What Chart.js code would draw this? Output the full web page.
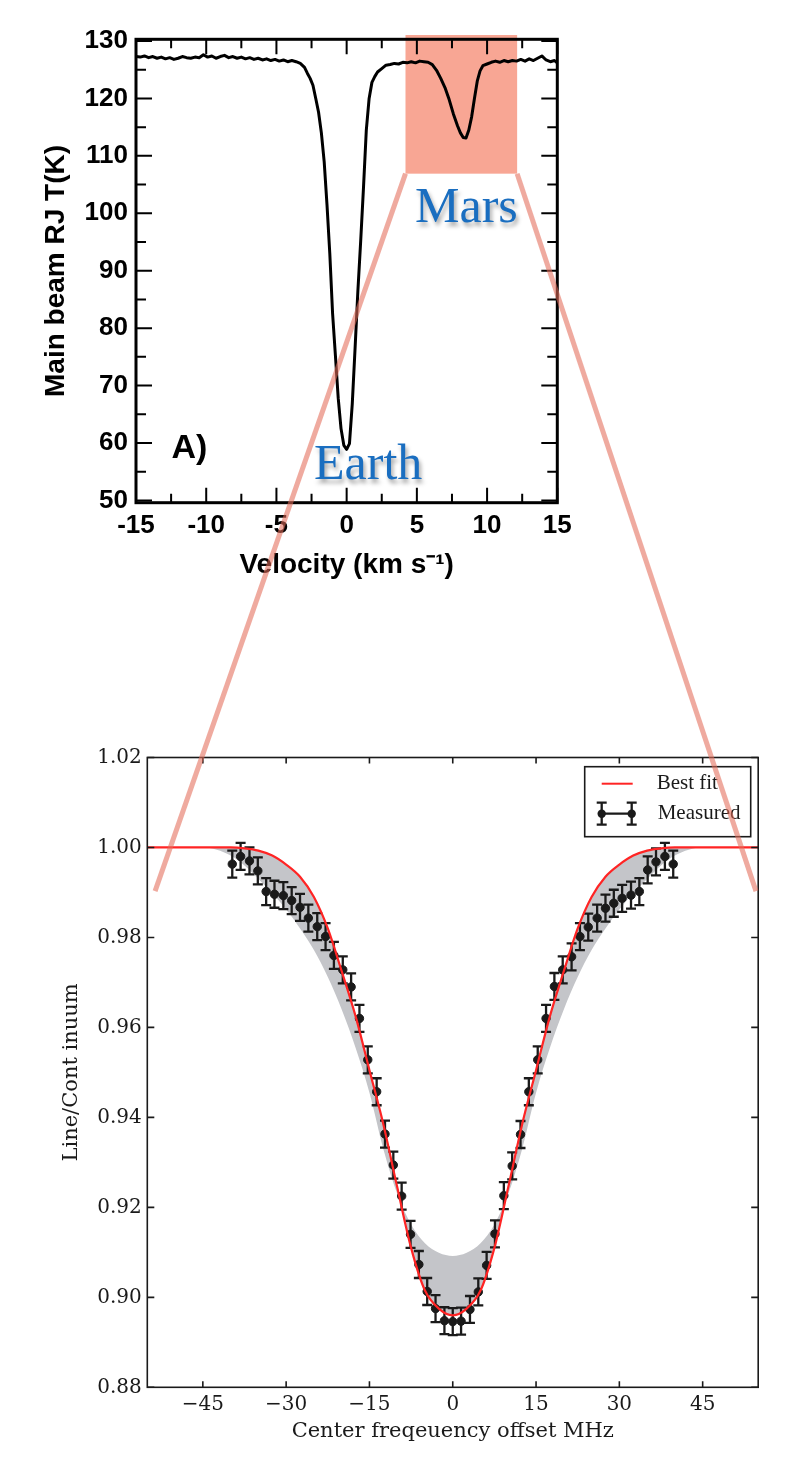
<!DOCTYPE html>
<html>
<head>
<meta charset="utf-8">
<script src="https://cdn.jsdelivr.net/npm/chart.js@4.4.1/dist/chart.umd.min.js"></script>
<style>
  html, body { margin: 0; padding: 0; background: #fff; }
  #page { position: relative; width: 800px; height: 1470px; overflow: hidden; }
  #page canvas { position: absolute; left: 0; }
  #top { top: 0; }
  #bottom { top: 620px; }
  #overlay { top: 0; pointer-events: none; }
  .planet {
    position: absolute;
    font-family: "Liberation Serif", "DejaVu Serif", serif;
    font-size: 50px;
    line-height: 50px;
    color: #1a6ec0;
    text-shadow: 2px 4px 4px rgba(0, 0, 0, 0.35);
    white-space: nowrap;
  }
</style>
</head>
<body>
<div id="page">
  <canvas id="top" width="800" height="600"></canvas>
  <canvas id="bottom" width="800" height="850"></canvas>
  <canvas id="overlay" width="800" height="1470"></canvas>
  <div class="planet" style="left:415px; top:180px">Mars</div>
  <div class="planet" style="left:314px; top:437px">Earth</div>
</div>

<script>
// ---- Panel A: main beam temperature vs velocity -------------------
const VEL = [
  -15.0, -14.7, -14.4, -14.1, -13.8, -13.5, -13.2, -12.9, -12.6, -12.3,
  -12.0, -11.7, -11.4, -11.1, -10.8, -10.5, -10.2, -9.9, -9.6, -9.3,
  -9.0, -8.7, -8.4, -8.1, -7.8, -7.5, -7.2, -6.9, -6.6, -6.3,
  -6.0, -5.7, -5.4, -5.1, -4.8, -4.5, -4.2, -3.9, -3.6, -3.3,
  -3.0, -2.8, -2.6, -2.4, -2.2, -2.0, -1.8, -1.6, -1.4, -1.2,
  -1.0, -0.8, -0.6, -0.4, -0.2, 0.0, 0.2, 0.4, 0.6, 0.8,
  1.0, 1.2, 1.4, 1.6, 1.8, 2.0, 2.2, 2.5, 2.8, 3.1,
  3.4, 3.7, 4.0, 4.3, 4.6, 4.9, 5.2, 5.5, 5.8, 6.1,
  6.4, 6.7, 7.0, 7.3, 7.6, 7.9, 8.1, 8.3, 8.5, 8.7,
  8.9, 9.1, 9.3, 9.5, 9.7, 10.0, 10.3, 10.6, 10.9, 11.2,
  11.5, 11.8, 12.1, 12.4, 12.7, 13.0, 13.3, 13.6, 13.9, 14.2,
  14.5, 14.8, 15.0,
];
const TEMP = [
  127.3, 127.2, 127.4, 127.1, 127.3, 127.0, 127.2, 126.9, 127.1, 126.8,
  127.0, 127.3, 127.1, 127.0, 127.2, 127.1, 127.6, 127.2, 127.4, 127.0,
  127.3, 127.5, 127.1, 127.3, 127.0, 127.2, 126.9, 127.1, 126.8, 127.0,
  126.7, 126.9, 126.6, 126.8, 126.5, 126.7, 126.4, 126.6, 126.4, 126.1,
  125.4, 124.4, 123.5, 122.3, 120.0, 117.6, 114.0, 109.0, 101.5, 93.0,
  82.5, 75.2, 67.8, 62.5, 59.6, 58.9, 59.9, 66.8, 76.5, 86.5,
  95.2, 104.5, 114.5, 120.0, 122.8, 123.8, 124.6, 125.2, 125.8, 125.9,
  126.1, 126.0, 126.3, 126.2, 126.4, 126.2, 126.5, 126.4, 126.3, 125.9,
  124.9, 123.5, 121.9, 119.8, 117.3, 115.2, 114.0, 113.2, 113.1, 114.5,
  116.8, 120.0, 123.0, 124.8, 125.7, 126.0, 126.3, 126.5, 126.3, 126.6,
  126.4, 126.6, 126.5, 126.8, 126.5, 126.9, 126.6, 127.0, 127.4, 126.7,
  126.4, 126.6, 126.2,
];
const VEL_TICKS  = [-15, -10, -5, 0, 5, 10, 15];
const VEL_MINOR  = [-12.5, -7.5, -2.5, 2.5, 7.5, 12.5];
const TEMP_TICKS = [50, 60, 70, 80, 90, 100, 110, 120, 130];
const TEMP_MINOR = [55, 65, 75, 85, 95, 105, 115, 125];
// highlighted Mars window: velocity from/to, temperature low/high
const MARS_BOX   = [4.19, 12.14, 106.9, 131.05];
const PANEL_TAG  = ["A)", -11.2, 59.1];

// ---- Zoomed panel: line/continuum vs frequency offset --------------
const FIT_F = [
  -55, -45, -42.5, -40, -37.5, -35, -32.5, -30, -27.5, -25,
  -22.5, -20, -17.5, -15, -12.5, -10, -7.5, -5, -2.5, 0,
  2.5, 5, 7.5, 10, 12.5, 15, 17.5, 20, 22.5, 25,
  27.5, 30, 32.5, 35, 37.5, 40, 42.5, 45, 55,
];
const FIT_BEST = [
  1.0, 1.0, 1.0, 1.0, 0.9998, 0.9993, 0.9982, 0.9962, 0.9935, 0.9890,
  0.9820, 0.9725, 0.9625, 0.9505, 0.9385, 0.9245, 0.9110, 0.9015, 0.8975, 0.8960,
  0.8975, 0.9015, 0.9110, 0.9245, 0.9385, 0.9505, 0.9625, 0.9725, 0.9820, 0.9890,
  0.9935, 0.9962, 0.9982, 0.9993, 0.9998, 1.0, 1.0, 1.0, 1.0,
];
const FIT_ALT = [
  1.0, 1.0, 0.9995, 0.9982, 0.9960, 0.9930, 0.9898, 0.9862, 0.9820, 0.9772,
  0.9712, 0.9640, 0.9555, 0.9455, 0.9330, 0.9230, 0.9162, 0.9120, 0.9099, 0.9092,
  0.9099, 0.9120, 0.9162, 0.9230, 0.9330, 0.9455, 0.9555, 0.9640, 0.9712, 0.9772,
  0.9820, 0.9862, 0.9898, 0.9930, 0.9960, 0.9982, 0.9995, 1.0, 1.0,
];
const MEAS_F = [
  -39.7, -38.2, -36.6, -35.1, -33.6, -32.1, -30.5, -29.0, -27.5, -26.0,
  -24.4, -22.9, -21.4, -19.8, -18.3, -16.8, -15.3, -13.7, -12.2, -10.7,
  -9.2, -7.6, -6.1, -4.6, -3.1, -1.5, 0.0, 1.5, 3.1, 4.6,
  6.1, 7.6, 9.2, 10.7, 12.2, 13.7, 15.3, 16.8, 18.3, 19.8,
  21.4, 22.9, 24.4, 26.0, 27.5, 29.0, 30.5, 32.1, 33.6, 35.1,
  36.6, 38.2, 39.7,
];
const MEAS_V = [
  0.9963, 0.9980, 0.9970, 0.9948, 0.9902, 0.9896, 0.9893, 0.9882, 0.9867, 0.9843,
  0.9824, 0.9802, 0.9760, 0.9728, 0.9690, 0.9620, 0.9528, 0.9457, 0.9363, 0.9294,
  0.9225, 0.9140, 0.9073, 0.9013, 0.8975, 0.8948, 0.8946, 0.8947, 0.8973, 0.9012,
  0.9071, 0.9141, 0.9226, 0.9292, 0.9362, 0.9457, 0.9528, 0.9620, 0.9691, 0.9728,
  0.9757, 0.9802, 0.9823, 0.9843, 0.9865, 0.9876, 0.9887, 0.9894, 0.9902, 0.9950,
  0.9968, 0.9980, 0.9963,
];
const MEAS_ERR = [
  0.003, 0.003, 0.003, 0.003, 0.003, 0.003, 0.003, 0.003, 0.003, 0.003,
  0.003, 0.003, 0.003, 0.003, 0.003, 0.003, 0.003, 0.003, 0.003, 0.003,
  0.003, 0.003, 0.003, 0.003, 0.003, 0.003, 0.003, 0.003, 0.003, 0.003,
  0.003, 0.003, 0.003, 0.003, 0.003, 0.003, 0.003, 0.003, 0.003, 0.003,
  0.003, 0.003, 0.003, 0.003, 0.003, 0.003, 0.003, 0.003, 0.003, 0.003,
  0.003, 0.003, 0.003,
];
const FREQ_TICKS  = [-45, -30, -15, 0, 15, 30, 45];
const RATIO_TICKS = [0.88, 0.90, 0.92, 0.94, 0.96, 0.98, 1.00, 1.02];
const LEGEND_TXT  = ["Best fit", "Measured"];
// where the zoom guide lines land on the lower panel (offset MHz, ratio)
const GUIDE_ENDS  = [-53.6, 54.6, 0.9903];

// ---- styles ----------------------------------------------------------
const SANS  = "'Liberation Sans', Arial, Helvetica, sans-serif";
const SERIF = "'DejaVu Serif', 'Liberation Serif', serif";
const INK   = "#1a1a1a";
const SHADE = "#c4c5c9";
const FIT_RED = "#ff2424";

const pts = (xs, ys) => xs.map((x, i) => ({ x, y: ys[i] }));
const fixTicks = (vals) => (scale) => { scale.ticks = vals.map((v) => ({ value: v })); };

// inward tick marks on all four sides + the plot frame
function frameTicks(opts) {
  return {
    id: "frameTicks",
    afterDatasetsDraw(chart) {
      const { ctx, chartArea: a, scales: { x, y } } = chart;
      ctx.save();
      ctx.strokeStyle = opts.color;
      ctx.lineWidth = opts.tickWidth;
      ctx.beginPath();
      const hTick = (v, len) => {
        const py = y.getPixelForValue(v);
        ctx.moveTo(a.left, py);  ctx.lineTo(a.left + len, py);
        ctx.moveTo(a.right, py); ctx.lineTo(a.right - len, py);
      };
      const vTick = (v, len) => {
        const px = x.getPixelForValue(v);
        ctx.moveTo(px, a.bottom); ctx.lineTo(px, a.bottom - len);
        ctx.moveTo(px, a.top);    ctx.lineTo(px, a.top + len);
      };
      opts.yMajor.forEach((v) => hTick(v, opts.major));
      opts.yMinor.forEach((v) => hTick(v, opts.minor));
      opts.xMajor.forEach((v) => vTick(v, opts.major - 1));
      opts.xMinor.forEach((v) => vTick(v, opts.minor - 1));
      ctx.stroke();
      ctx.lineWidth = opts.frameWidth;
      ctx.strokeRect(a.left, a.top, a.right - a.left, a.bottom - a.top);
      ctx.restore();
    },
  };
}

// ---- Panel A chart ----------------------------------------------------
const marsLayer = {
  id: "marsLayer",
  afterDraw(chart) {
    const { ctx, scales: { x, y } } = chart;
    const x0 = x.getPixelForValue(MARS_BOX[0]);
    const x1 = x.getPixelForValue(MARS_BOX[1]);
    const y0 = y.getPixelForValue(MARS_BOX[3]);
    const y1 = y.getPixelForValue(MARS_BOX[2]);
    ctx.save();
    ctx.globalCompositeOperation = "multiply";
    ctx.fillStyle = "rgb(248,166,148)";
    ctx.fillRect(x0, y0, x1 - x0, y1 - y0);
    ctx.restore();

    ctx.save();
    ctx.font = "bold 34px " + SANS;
    ctx.fillStyle = "#000";
    ctx.textAlign = "center";
    ctx.textBaseline = "middle";
    ctx.fillText(PANEL_TAG[0], x.getPixelForValue(PANEL_TAG[1]), y.getPixelForValue(PANEL_TAG[2]));
    ctx.restore();
  },
};

const topChart = new Chart(document.getElementById("top"), {
  type: "line",
  data: {
    datasets: [{
      data: pts(VEL, TEMP),
      borderColor: "#000",
      borderWidth: 3,
      pointRadius: 0,
      tension: 0,
      borderJoinStyle: "round",
    }],
  },
  options: {
    responsive: false,
    animation: false,
    layout: { padding: { left: 0, top: 39.3, right: 242.7, bottom: 17.3 } },
    plugins: { legend: { display: false }, tooltip: { enabled: false } },
    scales: {
      x: {
        type: "linear",
        min: -15, max: 15,
        afterBuildTicks: fixTicks(VEL_TICKS),
        afterFit: (s) => { s.height = 80; },
        grid: { display: false, drawTicks: false },
        border: { display: false },
        ticks: {
          autoSkip: false, maxRotation: 0, padding: 8,
          color: "#000",
          font: { family: SANS, size: 26, weight: "bold" },
        },
        title: {
          display: true,
          text: "Velocity (km s\u207B\u00B9)",
          color: "#000",
          font: { family: SANS, size: 28, weight: "bold" },
          padding: { top: 0, bottom: 1 },
        },
      },
      y: {
        type: "linear",
        min: 49.6, max: 130.3,
        afterBuildTicks: fixTicks(TEMP_TICKS),
        afterFit: (s) => { s.width = 136; },
        grid: { display: false, drawTicks: false },
        border: { display: false },
        ticks: {
          autoSkip: false, padding: 8,
          color: "#000",
          font: { family: SANS, size: 26, weight: "bold" },
        },
        title: {
          display: true,
          text: "Main beam RJ T(K)",
          color: "#000",
          font: { family: SANS, size: 28, weight: "bold" },
          padding: { top: 39, bottom: 0 },
        },
      },
    },
  },
  plugins: [
    frameTicks({
      color: "#000", tickWidth: 2, frameWidth: 3, major: 16, minor: 10,
      yMajor: TEMP_TICKS, yMinor: TEMP_MINOR, xMajor: VEL_TICKS, xMinor: VEL_MINOR,
    }),
    marsLayer,
  ],
});

// ---- Zoomed panel chart -------------------------------------------------
const errorBars = {
  id: "errorBars",
  beforeDatasetDraw(chart, args) {
    if (args.index !== 1) return;
    const { ctx, scales: { x, y } } = chart;
    ctx.save();
    ctx.strokeStyle = INK;
    ctx.lineWidth = 2.3;
    ctx.beginPath();
    MEAS_F.forEach((f, i) => {
      const px = x.getPixelForValue(f);
      const hi = y.getPixelForValue(MEAS_V[i] + MEAS_ERR[i]);
      const lo = y.getPixelForValue(MEAS_V[i] - MEAS_ERR[i]);
      ctx.moveTo(px, hi); ctx.lineTo(px, lo);
      ctx.moveTo(px - 5, hi); ctx.lineTo(px + 5, hi);
      ctx.moveTo(px - 5, lo); ctx.lineTo(px + 5, lo);
    });
    ctx.stroke();
    ctx.restore();
  },
};

const fitLegend = {
  id: "fitLegend",
  afterDraw(chart) {
    const { ctx, chartArea: a } = chart;
    const bx = a.right - 173.5, by = a.top + 9.2, bw = 166, bh = 70;
    ctx.save();
    ctx.fillStyle = "#fff";
    ctx.fillRect(bx, by, bw, bh);
    ctx.strokeStyle = INK;
    ctx.lineWidth = 1.6;
    ctx.strokeRect(bx, by, bw, bh);

    const r1 = by + 17, r2 = by + 47;
    ctx.strokeStyle = FIT_RED;
    ctx.lineWidth = 2;
    ctx.beginPath();
    ctx.moveTo(bx + 17, r1); ctx.lineTo(bx + 48, r1);
    ctx.stroke();

    ctx.strokeStyle = INK;
    ctx.fillStyle = INK;
    ctx.lineWidth = 2.3;
    ctx.beginPath();
    ctx.moveTo(bx + 17, r2); ctx.lineTo(bx + 47, r2);
    [bx + 17, bx + 47].forEach((px) => {
      ctx.moveTo(px, r2 - 11); ctx.lineTo(px, r2 + 11);
      ctx.moveTo(px - 5, r2 - 11); ctx.lineTo(px + 5, r2 - 11);
      ctx.moveTo(px - 5, r2 + 11); ctx.lineTo(px + 5, r2 + 11);
    });
    ctx.stroke();
    [bx + 17, bx + 47].forEach((px) => {
      ctx.beginPath(); ctx.arc(px, r2, 4.2, 0, Math.PI * 2); ctx.fill();
    });

    ctx.font = "21px 'Liberation Serif', 'DejaVu Serif', serif";
    ctx.textAlign = "left";
    ctx.textBaseline = "middle";
    ctx.fillText(LEGEND_TXT[0], bx + 72, r1);
    ctx.fillText(LEGEND_TXT[1], bx + 73, r2);
    ctx.restore();
  },
};

const bottomChart = new Chart(document.getElementById("bottom"), {
  type: "line",
  data: {
    datasets: [
      {
        label: LEGEND_TXT[0],
        data: pts(FIT_F, FIT_BEST),
        borderColor: FIT_RED,
        borderWidth: 2.2,
        pointRadius: 0,
        cubicInterpolationMode: "monotone",
        fill: false,
      },
      {
        label: LEGEND_TXT[1],
        data: pts(MEAS_F, MEAS_V),
        showLine: false,
        pointRadius: 4.2,
        pointBackgroundColor: INK,
        pointBorderColor: INK,
      },
      {
        data: pts(FIT_F, FIT_ALT),
        borderWidth: 0,
        borderColor: "rgba(0,0,0,0)",
        pointRadius: 0,
        cubicInterpolationMode: "monotone",
        fill: { target: 0, above: SHADE, below: SHADE },
      },
    ],
  },
  options: {
    responsive: false,
    animation: false,
    layout: { padding: { left: 0, top: 137.5, right: 41.8, bottom: 12.7 } },
    plugins: { legend: { display: false }, tooltip: { enabled: false } },
    scales: {
      x: {
        type: "linear",
        min: -55, max: 55,
        afterBuildTicks: fixTicks(FREQ_TICKS),
        afterFit: (s) => { s.height = 70; },
        grid: { display: false, drawTicks: false },
        border: { display: false },
        ticks: {
          autoSkip: false, maxRotation: 0, padding: 5,
          color: INK,
          font: { family: SERIF, size: 20 },
          callback: (v) => (v < 0 ? "\u2212" : "") + Math.abs(v),
        },
        title: {
          display: true,
          text: "Center freqeuency offset MHz",
          color: INK,
          font: { family: SERIF, size: 21 },
          padding: { top: 0, bottom: 13 },
        },
      },
      y: {
        type: "linear",
        min: 0.88, max: 1.02,
        afterBuildTicks: fixTicks(RATIO_TICKS),
        afterFit: (s) => { s.width = 147.3; },
        grid: { display: false, drawTicks: false },
        border: { display: false },
        ticks: {
          autoSkip: false, padding: 5.5,
          color: INK,
          font: { family: SERIF, size: 20 },
          callback: (v) => Number(v).toFixed(2),
        },
        title: {
          display: true,
          text: "Line/Cont inuum",
          color: INK,
          font: { family: SERIF, size: 21 },
          padding: { top: 59, bottom: 0 },
        },
      },
    },
  },
  plugins: [
    errorBars,
    frameTicks({
      color: INK, tickWidth: 1.6, frameWidth: 1.6, major: 7, minor: 0,
      yMajor: RATIO_TICKS, yMinor: [], xMajor: FREQ_TICKS, xMinor: [],
    }),
    fitLegend,
  ],
});

// ---- zoom guide lines between the two panels ------------------------
function drawGuides() {
  const ctx = document.getElementById("overlay").getContext("2d");
  const topOff = document.getElementById("top").offsetTop;
  const botOff = document.getElementById("bottom").offsetTop;
  const tx = topChart.scales.x, ty = topChart.scales.y;
  const bx = bottomChart.scales.x, by = bottomChart.scales.y;
  const yTop = ty.getPixelForValue(MARS_BOX[2]) + topOff;
  const yBot = by.getPixelForValue(GUIDE_ENDS[2]) + botOff;

  ctx.save();
  ctx.strokeStyle = "rgba(228,108,90,0.58)";
  ctx.lineWidth = 5;
  ctx.lineCap = "butt";
  [[MARS_BOX[0], GUIDE_ENDS[0]], [MARS_BOX[1], GUIDE_ENDS[1]]].forEach(([v, f]) => {
    ctx.beginPath();
    ctx.moveTo(tx.getPixelForValue(v), yTop);
    ctx.lineTo(bx.getPixelForValue(f), yBot);
    ctx.stroke();
  });
  ctx.restore();
}

drawGuides();
</script>
</body>
</html>
